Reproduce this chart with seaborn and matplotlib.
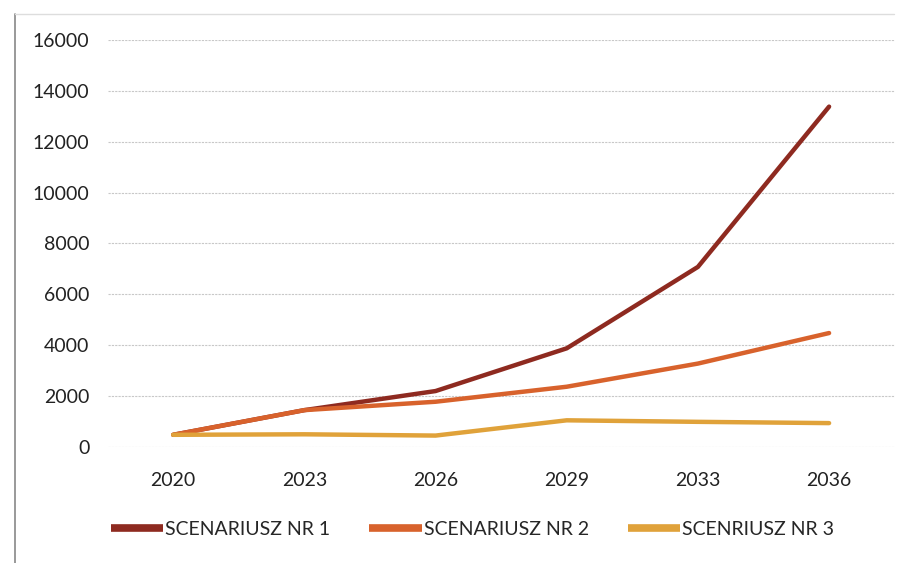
import seaborn as sns
import matplotlib.pyplot as plt
import matplotlib.lines as mlines
import pandas as pd

years = ["2020", "2023", "2026", "2029", "2033", "2036"]
scenario_1 = [480, 1450, 2200, 3880, 7080, 13380]
scenario_2 = [480, 1450, 1780, 2370, 3280, 4480]
scenario_3 = [480, 500, 450, 1050, 990, 940]
series_names = ["SCENARIUSZ NR 1", "SCENARIUSZ NR 2", "SCENRIUSZ NR 3"]
colors = ["#8e2a20", "#d8622c", "#e0a23a"]

rows = []
for name, vals in zip(series_names, [scenario_1, scenario_2, scenario_3]):
    for i, v in enumerate(vals):
        rows.append({"pos": i, "year": years[i], "value": v, "scenario": name})
df = pd.DataFrame(rows)

sns.set_style("white")
plt.rcParams['font.family'] = ['Lato', 'DejaVu Sans']

fig = plt.figure(figsize=(9.12, 5.63), dpi=100)
ax = fig.add_axes([0.118, 0.206, 0.863, 0.723])

sns.lineplot(data=df, x="pos", y="value", hue="scenario", palette=colors,
             linewidth=3.2, ax=ax, legend=False, solid_capstyle="round")

ax.set_xlim(-0.5, 5.5)
ax.set_ylim(0, 16000)
ax.set_yticks(range(0, 16001, 2000))
ax.set_xticks(range(len(years)))
ax.set_xticklabels(years)
ax.grid(axis="y", color="#c8c8c8", linewidth=0.8, linestyle=(0, (2, 1)))
ax.set_axisbelow(True)
for s in ax.spines.values():
    s.set_visible(False)
ax.tick_params(axis="both", length=0, labelsize=14, colors="#222222")
ax.tick_params(axis="x", pad=18)
ax.tick_params(axis="y", pad=13)
ax.set_xlabel("")
ax.set_ylabel("")

handles = [mlines.Line2D([], [], color=c, linewidth=5.5, solid_capstyle="butt") for c in colors]
fig.legend(handles, series_names, loc="center", bbox_to_anchor=(0.518, 0.059),
           ncol=3, frameon=False, fontsize=14, handlelength=2.7,
           handletextpad=0.1, columnspacing=2.0)

# scanned page border
fig.add_artist(mlines.Line2D([0.016, 0.016], [0.0, 0.975], color="#888888", linewidth=1.2))
fig.add_artist(mlines.Line2D([0.016, 0.98], [0.975, 0.975], color="#dddddd", linewidth=1.0))

fig.savefig("out.png", dpi=100)
